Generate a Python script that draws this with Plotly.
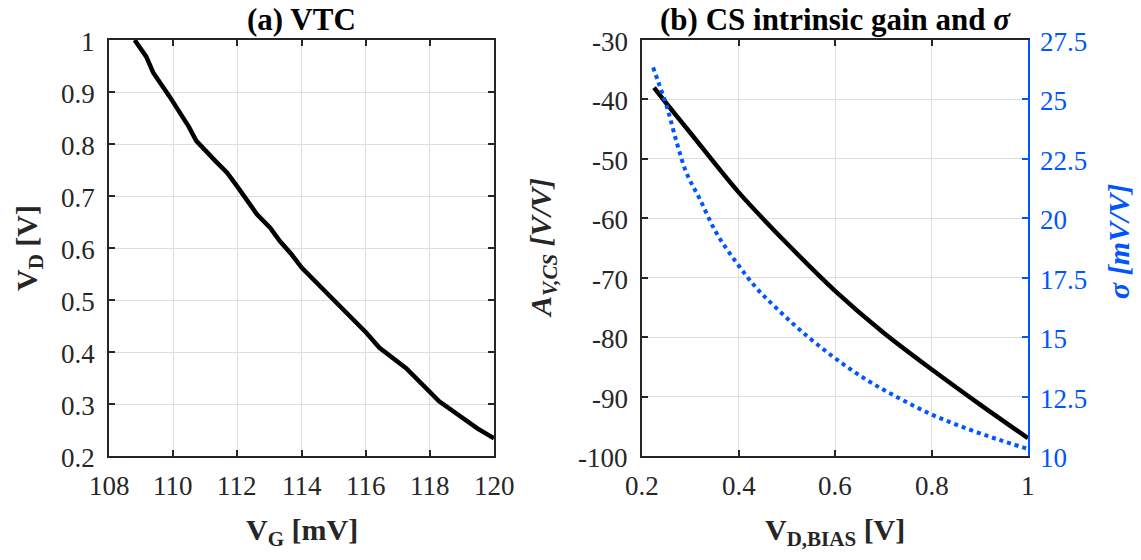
import plotly.graph_objects as go

# ---------------- data ----------------
# (a) VTC
vg_mV = [108.80, 109.16, 109.38, 109.88, 110.49, 110.72, 111.32, 111.68, 111.99,
         112.61, 113.02, 113.33, 113.70, 114.01, 114.99, 116.02, 116.43, 117.26,
         118.29, 118.97, 119.48, 120.00]
vd_V = [1.000, 0.968, 0.937, 0.892, 0.833, 0.806, 0.767, 0.745, 0.719,
        0.665, 0.639, 0.613, 0.587, 0.562, 0.501, 0.437, 0.408, 0.369,
        0.305, 0.276, 0.253, 0.234]

# (b) CS intrinsic gain and sigma
vd_bias = [0.225, 0.25, 0.30, 0.40, 0.50, 0.60, 0.70, 0.80, 0.90, 1.00]
av_cs = [-38.0, -40.6, -45.6, -55.6, -64.2, -72.2, -79.2, -85.4, -91.3, -97.0]

vd_sigma = [0.223, 0.234, 0.251, 0.272, 0.292, 0.320, 0.354, 0.396, 0.437,
            0.478, 0.527, 0.595, 0.665, 0.733, 0.802, 0.871, 0.940, 1.000]
sigma_mV = [26.35, 25.72, 24.73, 23.19, 21.92, 20.80, 19.39, 18.13, 17.07,
            16.23, 15.31, 14.19, 13.21, 12.43, 11.73, 11.17, 10.68, 10.30]

# tick labels
xa_ticks = [108, 110, 112, 114, 116, 118, 120]
xa_text = ["108", "110", "112", "114", "116", "118", "120"]
ya_ticks = [0.2, 0.3, 0.4, 0.5, 0.6, 0.7, 0.8, 0.9, 1.0]
ya_text = ["0.2", "0.3", "0.4", "0.5", "0.6", "0.7", "0.8", "0.9", "1"]
xb_ticks = [0.2, 0.4, 0.6, 0.8, 1.0]
xb_text = ["0.2", "0.4", "0.6", "0.8", "1"]
yb_ticks = [-100, -90, -80, -70, -60, -50, -40, -30]
yb_text = ["-100", "-90", "-80", "-70", "-60", "-50", "-40", "-30"]
yb2_ticks = [10, 12.5, 15, 17.5, 20, 22.5, 25, 27.5]
yb2_text = ["10", "12.5", "15", "17.5", "20", "22.5", "25", "27.5"]

# ---------------- style ----------------
W, H = 1141, 560
FONT = "Liberation Serif"
BLUE = "#0055FF"
AXC = "#262626"
GRID = "#dedede"
TICK_SIZE = 27
TITLE_SIZE = 31
LABEL_SIZE = 30


def px(x):
    return x / W


def py(y):
    return 1 - y / H


ydom = [py(456), py(40)]

fig = go.Figure()
fig.add_trace(go.Scatter(x=vg_mV, y=vd_V, mode="lines", xaxis="x", yaxis="y",
                         line=dict(color="black", width=4.5), showlegend=False))
fig.add_trace(go.Scatter(x=vd_bias, y=av_cs, mode="lines", xaxis="x2", yaxis="y2",
                         line=dict(color="black", width=4.5, shape="spline", smoothing=0.8),
                         showlegend=False))
fig.add_trace(go.Scatter(x=vd_sigma, y=sigma_mV, mode="lines", xaxis="x2", yaxis="y3",
                         line=dict(color=BLUE, width=4, dash="dot", shape="spline"),
                         showlegend=False))

common = dict(showline=True, linecolor=AXC, linewidth=1.5, ticks="inside", ticklen=6,
              tickwidth=1.5, tickcolor=AXC, showgrid=True, gridcolor=GRID, gridwidth=1,
              zeroline=False, automargin=False, showticklabels=False)

fig.update_layout(
    width=W, height=H,
    margin=dict(l=0, r=0, t=0, b=0),
    font=dict(family=FONT, size=TICK_SIZE, color=AXC),
    paper_bgcolor="white", plot_bgcolor="white",
    xaxis=dict(domain=[px(109), px(494)], range=[108, 120], anchor="y",
               tickvals=xa_ticks, mirror="ticks", **common),
    yaxis=dict(domain=ydom, range=[0.2, 1.0], anchor="x",
               tickvals=ya_ticks, mirror="ticks", **common),
    xaxis2=dict(domain=[px(642), px(1028)], range=[0.2, 1.0], anchor="y2",
                tickvals=xb_ticks, mirror="ticks", **common),
    yaxis2=dict(domain=ydom, range=[-100, -30], anchor="x2",
                tickvals=yb_ticks, mirror=False, **common),
    yaxis3=dict(domain=ydom, range=[10, 27.5], anchor="x2", overlaying="y2", side="right",
                tickvals=yb2_ticks, showline=True, linecolor=BLUE,
                linewidth=1.5, ticks="inside", ticklen=6, tickwidth=1.5, tickcolor=BLUE,
                showgrid=False, zeroline=False, automargin=False, showticklabels=False),
)

ann = []
tick_font = dict(family=FONT, size=TICK_SIZE, color=AXC)
tick_font_b = dict(family=FONT, size=TICK_SIZE, color=BLUE)

# tick labels (placed on the axes' own scales)
for v, t in zip(xa_ticks, xa_text):
    ann.append(dict(text=t, x=v, y=py(486), xref="x", yref="paper", xanchor="center",
                    yanchor="middle", showarrow=False, font=tick_font))
for v, t in zip(ya_ticks, ya_text):
    ann.append(dict(text=t, x=px(97), y=v, xref="paper", yref="y", xanchor="right",
                    yanchor="middle", yshift=-2, showarrow=False, font=tick_font))
for v, t in zip(xb_ticks, xb_text):
    ann.append(dict(text=t, x=v, y=py(486), xref="x2", yref="paper", xanchor="center",
                    yanchor="middle", showarrow=False, font=tick_font))
for v, t in zip(yb_ticks, yb_text):
    ann.append(dict(text=t, x=px(630), y=v, xref="paper", yref="y2", xanchor="right",
                    yanchor="middle", yshift=-2, showarrow=False, font=tick_font))
for v, t in zip(yb2_ticks, yb2_text):
    ann.append(dict(text=t, x=px(1038), y=v, xref="paper", yref="y3", xanchor="left",
                    yanchor="middle", yshift=-2, showarrow=False, font=tick_font_b))

# titles
ann.append(dict(text="<b>(a) VTC</b>", x=px(301.5), y=py(20), xref="paper", yref="paper",
                xanchor="center", yanchor="middle", showarrow=False,
                font=dict(family=FONT, size=TITLE_SIZE, color="black")))
ann.append(dict(text="<b>(b) CS intrinsic gain and <i>σ</i></b>", x=px(835), y=py(20),
                xref="paper", yref="paper", xanchor="center", yanchor="middle",
                showarrow=False, font=dict(family=FONT, size=TITLE_SIZE, color="black")))
# axis titles
ann.append(dict(text="<b>V<sub>G</sub> [mV]</b>", x=px(301.5), y=py(532), xref="paper",
                yref="paper", xanchor="center", yanchor="middle", showarrow=False,
                font=dict(family=FONT, size=LABEL_SIZE, color=AXC)))
ann.append(dict(text="<b>V<sub>D,BIAS</sub> [V]</b>", x=px(835), y=py(532), xref="paper",
                yref="paper", xanchor="center", yanchor="middle", showarrow=False,
                font=dict(family=FONT, size=LABEL_SIZE, color=AXC)))
ann.append(dict(text="<b>V<sub>D</sub> [V]</b>", x=px(29), y=py(248), xref="paper",
                yref="paper", xanchor="center", yanchor="middle", showarrow=False,
                textangle=-90, font=dict(family=FONT, size=LABEL_SIZE, color=AXC)))
ann.append(dict(text="<b><i>A<sub>V,CS</sub> [V/V]</i></b>", x=px(543), y=py(248),
                xref="paper", yref="paper", xanchor="center", yanchor="middle",
                showarrow=False, textangle=-90,
                font=dict(family=FONT, size=LABEL_SIZE, color=AXC)))
ann.append(dict(text="<b><i>σ [mV/V]</i></b>", x=px(1118), y=py(242), xref="paper",
                yref="paper", xanchor="center", yanchor="middle", showarrow=False,
                textangle=-90, font=dict(family=FONT, size=LABEL_SIZE, color=BLUE)))
fig.update_layout(annotations=ann)

fig.write_html("out.html")
